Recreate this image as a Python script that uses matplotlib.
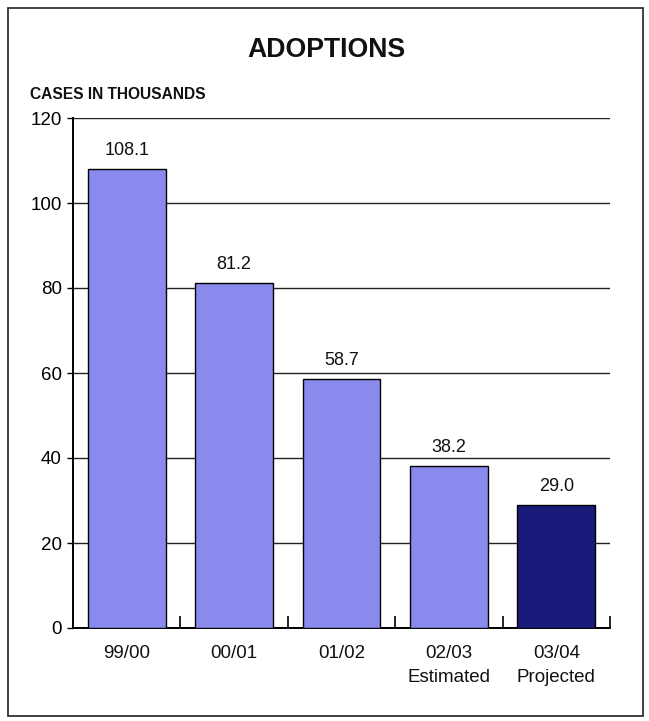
import matplotlib
matplotlib.use("Agg")
import matplotlib.pyplot as plt
from matplotlib.patches import Rectangle

# Adoption caseload by fiscal year (thousands)
years = ["99/00", "00/01", "01/02", "02/03", "03/04"]
notes = ["", "", "", "Estimated", "Projected"]
cases = [108.1, 81.2, 58.7, 38.2, 29.0]
value_labels = ["108.1", "81.2", "58.7", "38.2", "29.0"]
y_ticks = [0, 20, 40, 60, 80, 100, 120]

LIGHT = "#8a8aee"
DARK = "#1a1a7a"
bar_colors = [LIGHT, LIGHT, LIGHT, LIGHT, DARK]

plt.rcParams["font.family"] = ["Liberation Sans", "DejaVu Sans"]

fig = plt.figure(figsize=(6.49, 7.21), dpi=100)
fig.patch.set_facecolor("white")

# frame around the whole chart
fig.add_artist(Rectangle((8 / 649, 1 - 716 / 721), 635 / 649, 708 / 721,
                         transform=fig.transFigure, fill=False,
                         edgecolor="#333333", linewidth=1.3))

ax = fig.add_axes([73 / 649, 1 - 628 / 721, 537 / 649, 510 / 721])

x = list(range(len(years)))
ax.bar(x, cases, width=0.726, color=bar_colors, edgecolor="black",
       linewidth=1.0, zorder=3)

for xi, v, lab in zip(x, cases, value_labels):
    ax.annotate(lab, (xi, v), xytext=(0, 7), textcoords="offset points",
                ha="center", va="bottom", fontsize=13, color="#111111")

ax.set_xlim(-0.5, len(years) - 0.5)
ax.set_ylim(0, 120)
ax.set_yticks(y_ticks)
ax.set_yticklabels([str(t) for t in y_ticks], fontsize=13.5)
ax.yaxis.grid(True, color="#222222", linewidth=1.0, zorder=0)
ax.set_axisbelow(True)

# category labels placed under each bar, boundary ticks pointing inward
ax.set_xticks([i + 0.5 for i in x])
ax.set_xticklabels([])
ax.tick_params(axis="x", direction="in", length=9, width=1.2, color="black")
ax.tick_params(axis="y", direction="out", length=4, width=1.0, pad=4)
for xi, yr, nt in zip(x, years, notes):
    txt = yr if not nt else yr + "\n" + nt
    ax.text(xi, -3.9, txt, ha="center", va="top", fontsize=13.5,
            linespacing=1.55, color="#111111")

for side in ["top", "right"]:
    ax.spines[side].set_visible(False)
ax.spines["left"].set_linewidth(1.4)
ax.spines["bottom"].set_linewidth(1.4)

fig.text(326 / 649, 1 - 57 / 721, "ADOPTIONS", ha="center", va="baseline",
         fontsize=19.2, fontweight="bold", color="#111111")
fig.text(30 / 649, 1 - 99 / 721, "CASES IN THOUSANDS", ha="left",
         va="baseline", fontsize=11.2, fontweight="bold", color="#111111")

fig.savefig("out.png", dpi=100)
